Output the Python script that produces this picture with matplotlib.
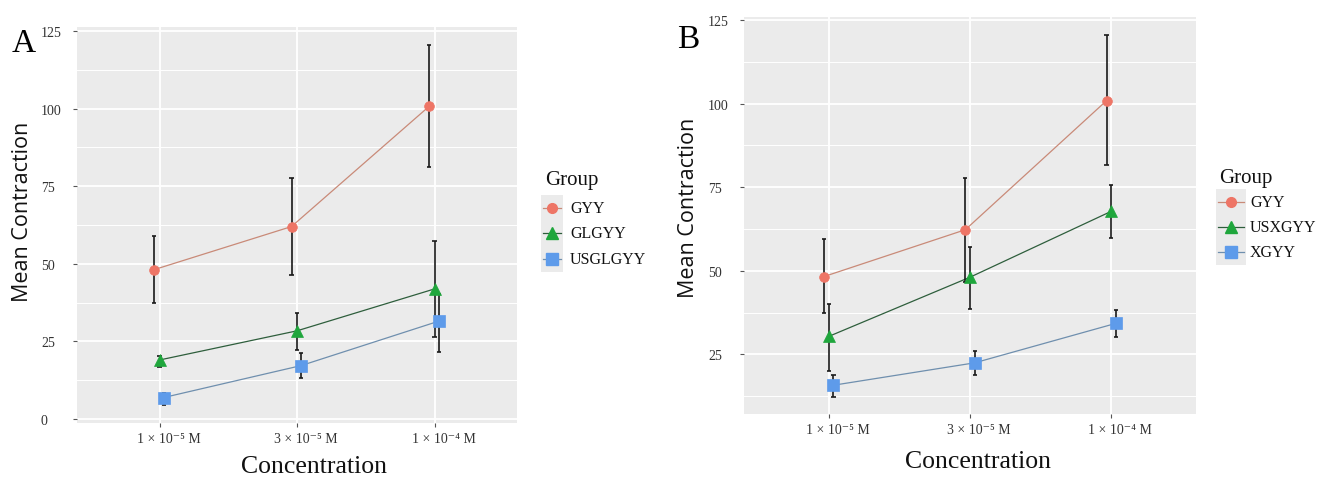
import matplotlib
matplotlib.use("Agg")
import matplotlib.pyplot as plt
from matplotlib.lines import Line2D
from matplotlib.patches import Rectangle
from matplotlib.transforms import ScaledTranslation

# ---------------- data ----------------
concentrations = ["1 × 10⁻⁵ M", "3 × 10⁻⁵ M", "1 × 10⁻⁴ M"]

groups_a = ["GYY", "GLGYY", "USGLGYY"]
mean_a = {
    "GYY": [48.1, 62.0, 100.7],
    "GLGYY": [19.0, 28.4, 41.9],
    "USGLGYY": [6.9, 17.2, 31.5],
}
upper_a = {
    "GYY": [59.0, 77.8, 120.4],
    "GLGYY": [20.3, 34.3, 57.3],
    "USGLGYY": [8.5, 21.2, 40.4],
}
lower_a = {
    "GYY": [37.4, 46.4, 81.3],
    "GLGYY": [16.9, 22.2, 26.3],
    "USGLGYY": [4.6, 13.1, 21.5],
}

groups_b = ["GYY", "USXGYY", "XGYY"]
mean_b = {
    "GYY": [48.3, 62.3, 100.9],
    "USXGYY": [30.4, 48.1, 67.8],
    "XGYY": [15.8, 22.5, 34.3],
}
upper_b = {
    "GYY": [59.5, 77.8, 120.4],
    "USXGYY": [40.1, 57.1, 75.8],
    "XGYY": [18.8, 26.1, 38.2],
}
lower_b = {
    "GYY": [37.5, 46.8, 81.6],
    "USXGYY": [20.1, 38.5, 59.7],
    "XGYY": [12.4, 18.8, 30.1],
}

yticks_a = [0, 25, 50, 75, 100, 125]
yticks_b = [25, 50, 75, 100, 125]

# ---------------- styles ----------------
W, H = 1321, 481
fig = plt.figure(figsize=(W / 100, H / 100), dpi=100)
fig.patch.set_facecolor("white")

SERIF = ["Liberation Serif", "DejaVu Serif"]
SANS = ["Open Sans", "DejaVu Sans"]

marker_colors = ["#EE7566", "#1FA63C", "#5E9BEA"]
line_colors = ["#C98A78", "#2E5E3C", "#6F8FAE"]
markers = ["o", "^", "s"]
msizes = [7, 8.5, 8]


def fx(px):
    return px / W


def fy(py):
    return 1 - py / H


def panel(rect_px, groups, means, ups, lows, yticks, ylim, offsets,
          letter, letter_xy, ylab_xy, xlab_xy, legend_cfg, ytick_pad):
    l, t, r, b = rect_px
    ax = fig.add_axes([fx(l), fy(b), fx(r) - fx(l), fy(t) - fy(b)])
    ax.set_facecolor("#EBEBEB")
    for s in ax.spines.values():
        s.set_visible(False)
    ax.set_yticks(yticks)
    minor = [y + 12.5 for y in yticks] + [yticks[0] - 12.5]
    minor = [m for m in minor if ylim[0] < m < ylim[1]]
    ax.set_yticks(minor, minor=True)
    ax.set_xticks([1, 2, 3])
    ax.set_xlim(0.4, 3.6)
    ax.set_ylim(*ylim)
    ax.grid(which="major", color="white", lw=1.3)
    ax.grid(which="minor", axis="y", color="white", lw=0.7)
    ax.set_axisbelow(True)
    ax.tick_params(which="minor", length=0)
    ax.tick_params(which="major", length=3, width=0.8, color="#555555",
                   labelcolor="#333333", labelsize=10)
    ax.tick_params(axis="y", pad=ytick_pad)
    ax.set_yticklabels([str(v) for v in yticks], fontfamily=SERIF, ha="left")
    ax.set_xticklabels(concentrations, fontfamily=SERIF)
    for lab in ax.get_xticklabels():
        lab.set_transform(lab.get_transform() +
                          ScaledTranslation(9 / 100, 0, fig.dpi_scale_trans))

    xs = [1, 2, 3]
    for i, g in enumerate(groups):
        xx = [x + offsets[i] for x in xs]
        ax.plot(xx, means[g], color=line_colors[i], lw=0.9, zorder=2)
        ax.vlines(xx, lows[g], ups[g], color="#1a1a1a", lw=1.2, zorder=3)
        ax.hlines(ups[g], [x - 0.015 for x in xx], [x + 0.015 for x in xx],
                  color="#1a1a1a", lw=1.2, zorder=3)
        ax.hlines(lows[g], [x - 0.015 for x in xx], [x + 0.015 for x in xx],
                  color="#1a1a1a", lw=1.2, zorder=3)
        ax.plot(xx, means[g], ls="none", marker=markers[i], ms=msizes[i],
                mfc=marker_colors[i], mec=marker_colors[i], mew=0.5, zorder=4)

    fig.text(fx(letter_xy[0]), fy(letter_xy[1]), letter, fontfamily=SERIF,
             fontsize=24, ha="center", va="center")
    fig.text(fx(ylab_xy[0]), fy(ylab_xy[1]), "Mean Contraction",
             fontfamily=SANS, fontsize=15.5, rotation=90, ha="center",
             va="center", color="#111111")
    fig.text(fx(xlab_xy[0]), fy(xlab_xy[1]), "Concentration",
             fontfamily=SERIF, fontsize=18.5, ha="center", va="center",
             color="#111111")

    # legend (ggplot style)
    tx, ty, kx0, kx1, ky0, ky1, ent_y, text_x = legend_cfg
    fig.text(fx(tx), fy(ty), "Group", fontfamily=SERIF, fontsize=15,
             ha="left", va="center", color="#111111")
    fig.patches.append(Rectangle((fx(kx0), fy(ky1)), fx(kx1) - fx(kx0),
                                 fy(ky0) - fy(ky1), transform=fig.transFigure,
                                 facecolor="#EBEBEB", edgecolor="none",
                                 zorder=0))
    for i, g in enumerate(groups):
        yy = fy(ent_y[i])
        fig.add_artist(Line2D([fx(kx0 + 2), fx(kx1 - 2)], [yy, yy],
                              transform=fig.transFigure, color=line_colors[i],
                              lw=0.9))
        fig.add_artist(Line2D([fx((kx0 + kx1) / 2)], [yy],
                              transform=fig.transFigure, ls="none",
                              marker=markers[i], ms=msizes[i],
                              mfc=marker_colors[i], mec=marker_colors[i]))
        fig.text(fx(text_x), yy, g, fontfamily=SERIF, fontsize=11.5,
                 ha="left", va="center", color="#111111")
    return ax


panel((77, 28, 517, 424), groups_a, mean_a, upper_a, lower_a, yticks_a,
      (-1.3, 126.3), [-0.04, 0.0, 0.03], "A", (24, 44), (22, 212), (314, 467),
      (545, 180, 541, 563, 196, 273, [209, 234, 260], 570), 23)

panel((744, 18, 1196, 415), groups_b, mean_b, upper_b, lower_b, yticks_b,
      (7.2, 125.9), [-0.033, 0.0, 0.033], "B", (688, 40), (689, 208),
      (978, 462), (1219, 178, 1216, 1246, 190, 266, [203, 228, 253], 1250), 23)

fig.savefig("out.png", dpi=100)
